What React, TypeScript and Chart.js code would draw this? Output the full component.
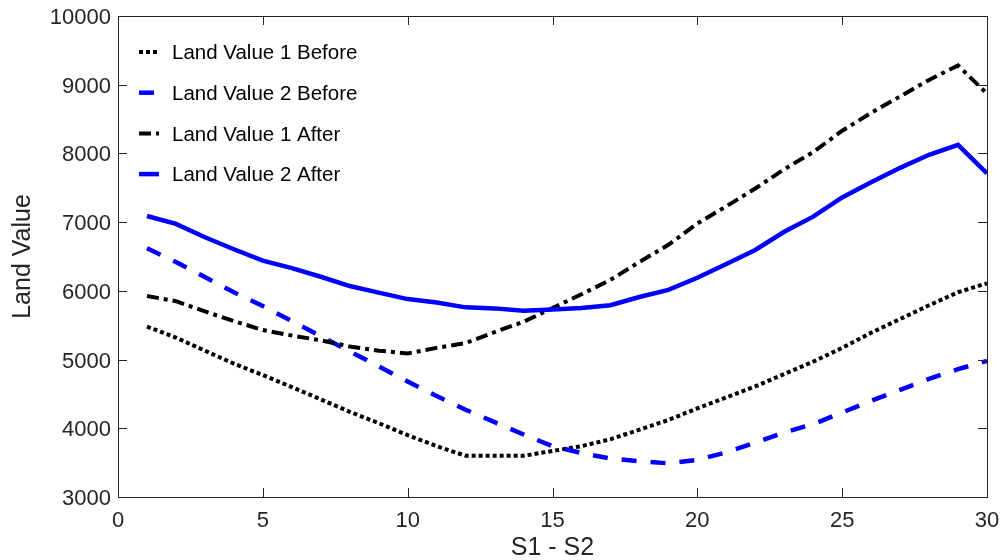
import React, { useEffect, useRef } from "react";
import { Chart, registerables } from "chart.js";

Chart.register(...registerables);

// ---------- data ----------
const xValues = [1, 2, 3, 4, 5, 6, 7, 8, 9, 10, 11, 12, 13, 14, 15, 16, 17, 18, 19, 20, 21, 22, 23, 24, 25, 26, 27, 28, 29, 30];

const landValue1Before = [5480, 5320, 5130, 4940, 4775, 4600, 4420, 4240, 4075, 3900, 3740, 3600, 3600, 3600, 3670, 3740, 3840, 3980, 4120, 4290, 4450, 4610, 4790, 4970, 5170, 5390, 5590, 5790, 5980, 6110];
const landValue2Before = [6620, 6420, 6200, 5980, 5780, 5560, 5340, 5120, 4900, 4680, 4470, 4270, 4090, 3910, 3740, 3640, 3560, 3520, 3490, 3540, 3650, 3790, 3940, 4060, 4230, 4400, 4560, 4720, 4860, 4980];
const landValue1After = [5925, 5850, 5700, 5560, 5430, 5350, 5280, 5190, 5130, 5090, 5170, 5240, 5400, 5550, 5750, 5950, 6160, 6420, 6670, 6980, 7230, 7490, 7770, 8020, 8330, 8590, 8830, 9070, 9280, 8870];
const landValue2After = [7090, 6975, 6780, 6605, 6440, 6330, 6205, 6070, 5975, 5880, 5830, 5760, 5745, 5710, 5730, 5750, 5790, 5910, 6015, 6190, 6390, 6595, 6860, 7080, 7360, 7580, 7790, 7980, 8125, 7710];

const seriesLabels = ["Land Value 1 Before", "Land Value 2 Before", "Land Value 1 After", "Land Value 2 After"];
const xTickValues = [0, 5, 10, 15, 20, 25, 30];
const yTickValues = [3000, 4000, 5000, 6000, 7000, 8000, 9000, 10000];
const xAxisTitle = "S1 - S2";
const yAxisTitle = "Land Value";

// ---------- styles ----------
const FONT = "'Liberation Sans', Arial, Helvetica, sans-serif";
const TEXT = "#262626";

const seriesStyles = [
  { color: "#000000", width: 4, dash: [4, 3] },
  { color: "#0000ff", width: 4.5, dash: [15, 14] },
  { color: "#000000", width: 4, dash: [12, 5, 4, 5] },
  { color: "#0000ff", width: 4.5, dash: [] as number[] },
];

const seriesValues = [landValue1Before, landValue2Before, landValue1After, landValue2After];

const boxPlugin = {
  id: "matlabBox",
  afterDraw(chart: any) {
    const { ctx, chartArea, scales } = chart;
    const { left, right, top, bottom } = chartArea;
    ctx.save();
    ctx.strokeStyle = TEXT;
    ctx.lineWidth = 1;
    ctx.setLineDash([]);
    ctx.strokeRect(Math.round(left) + 0.5, Math.round(top) + 0.5, Math.round(right - left), Math.round(bottom - top));
    const tl = 9;
    ctx.beginPath();
    yTickValues.forEach((v) => {
      const py = Math.round(scales.y.getPixelForValue(v)) + 0.5;
      ctx.moveTo(left, py);
      ctx.lineTo(left + tl, py);
      ctx.moveTo(right, py);
      ctx.lineTo(right - tl, py);
    });
    xTickValues.forEach((v) => {
      const px = Math.round(scales.x.getPixelForValue(v)) + 0.5;
      ctx.moveTo(px, bottom);
      ctx.lineTo(px, bottom - tl);
      ctx.moveTo(px, top);
      ctx.lineTo(px, top + tl);
    });
    ctx.stroke();
    ctx.restore();
  },
};

const legendPlugin = {
  id: "insideLegend",
  afterDraw(chart: any) {
    const { ctx } = chart;
    ctx.save();
    const rowStart = 52;
    const rowGap = 40.7;
    chart.data.datasets.forEach((ds: any, i: number) => {
      const cy = rowStart + i * rowGap;
      ctx.beginPath();
      ctx.strokeStyle = ds.borderColor;
      ctx.lineWidth = ds.borderWidth;
      ctx.setLineDash(ds.borderDash || []);
      ctx.lineCap = "butt";
      ctx.moveTo(139, cy);
      ctx.lineTo(159, cy);
      ctx.stroke();
      ctx.setLineDash([]);
      ctx.fillStyle = "#000000";
      ctx.font = `20.5px ${FONT}`;
      ctx.textAlign = "left";
      ctx.textBaseline = "alphabetic";
      ctx.fillText(ds.label, 172, cy + 7.3);
    });
    ctx.restore();
  },
};

export default function App() {
  const canvasRef = useRef<HTMLCanvasElement | null>(null);

  useEffect(() => {
    document.body.style.margin = "0";
    const canvas = canvasRef.current;
    if (!canvas) return;

    const datasets = seriesValues.map((vals, i) => ({
      label: seriesLabels[i],
      data: xValues.map((x, j) => ({ x, y: vals[j] })),
      borderColor: seriesStyles[i].color,
      backgroundColor: seriesStyles[i].color,
      borderWidth: seriesStyles[i].width,
      borderDash: seriesStyles[i].dash,
      borderCapStyle: "butt",
      borderJoinStyle: "miter",
      pointRadius: 0,
      tension: 0,
      fill: false,
      order: -i,
    }));

    const chart = new Chart(canvas, {
      type: "line",
      data: { datasets } as any,
      options: {
        responsive: false,
        animation: false,
        devicePixelRatio: 1,
        layout: { padding: { top: 16, right: 15, left: 0, bottom: 0 } },
        plugins: {
          legend: { display: false },
          tooltip: { enabled: false },
        },
        scales: {
          x: {
            type: "linear",
            min: 0,
            max: 30,
            afterBuildTicks: (s: any) => {
              s.ticks = xTickValues.map((v) => ({ value: v }));
            },
            grid: { display: false, drawTicks: false },
            border: { display: false },
            ticks: {
              font: { family: FONT, size: 22 },
              color: TEXT,
              padding: 11,
              maxRotation: 0,
              autoSkip: false,
              callback: (v: any) => String(v),
            },
            title: {
              display: true,
              text: xAxisTitle,
              font: { family: FONT, size: 25, lineHeight: 0.94 },
              color: TEXT,
              padding: { top: 0, bottom: 0 },
            },
            afterFit: (s: any) => {
              s.height = 63;
              s.paddingLeft = 0;
              s.paddingRight = 0;
              s.paddingTop = 0;
              s.paddingBottom = 0;
            },
          },
          y: {
            type: "linear",
            min: 3000,
            max: 10000,
            afterBuildTicks: (s: any) => {
              s.ticks = yTickValues.map((v) => ({ value: v }));
            },
            grid: { display: false, drawTicks: false },
            border: { display: false },
            ticks: {
              font: { family: FONT, size: 22 },
              color: TEXT,
              padding: 7,
              labelOffset: 2,
              autoSkip: false,
              callback: (v: any) => String(v),
            },
            title: {
              display: true,
              text: yAxisTitle,
              font: { family: FONT, size: 25, lineHeight: 1.2 },
              color: TEXT,
              padding: { top: 8, bottom: 0 },
            },
            afterFit: (s: any) => {
              s.width = 118;
              s.paddingLeft = 0;
              s.paddingRight = 0;
              s.paddingTop = 0;
              s.paddingBottom = 0;
            },
          },
        },
      } as any,
      plugins: [boxPlugin, legendPlugin],
    });

    return () => {
      chart.destroy();
    };
  }, []);

  return (
    <div style={{ width: 1002, height: 560 }}>
      <canvas ref={canvasRef} width={1002} height={560} style={{ display: "block" }} />
    </div>
  );
}
